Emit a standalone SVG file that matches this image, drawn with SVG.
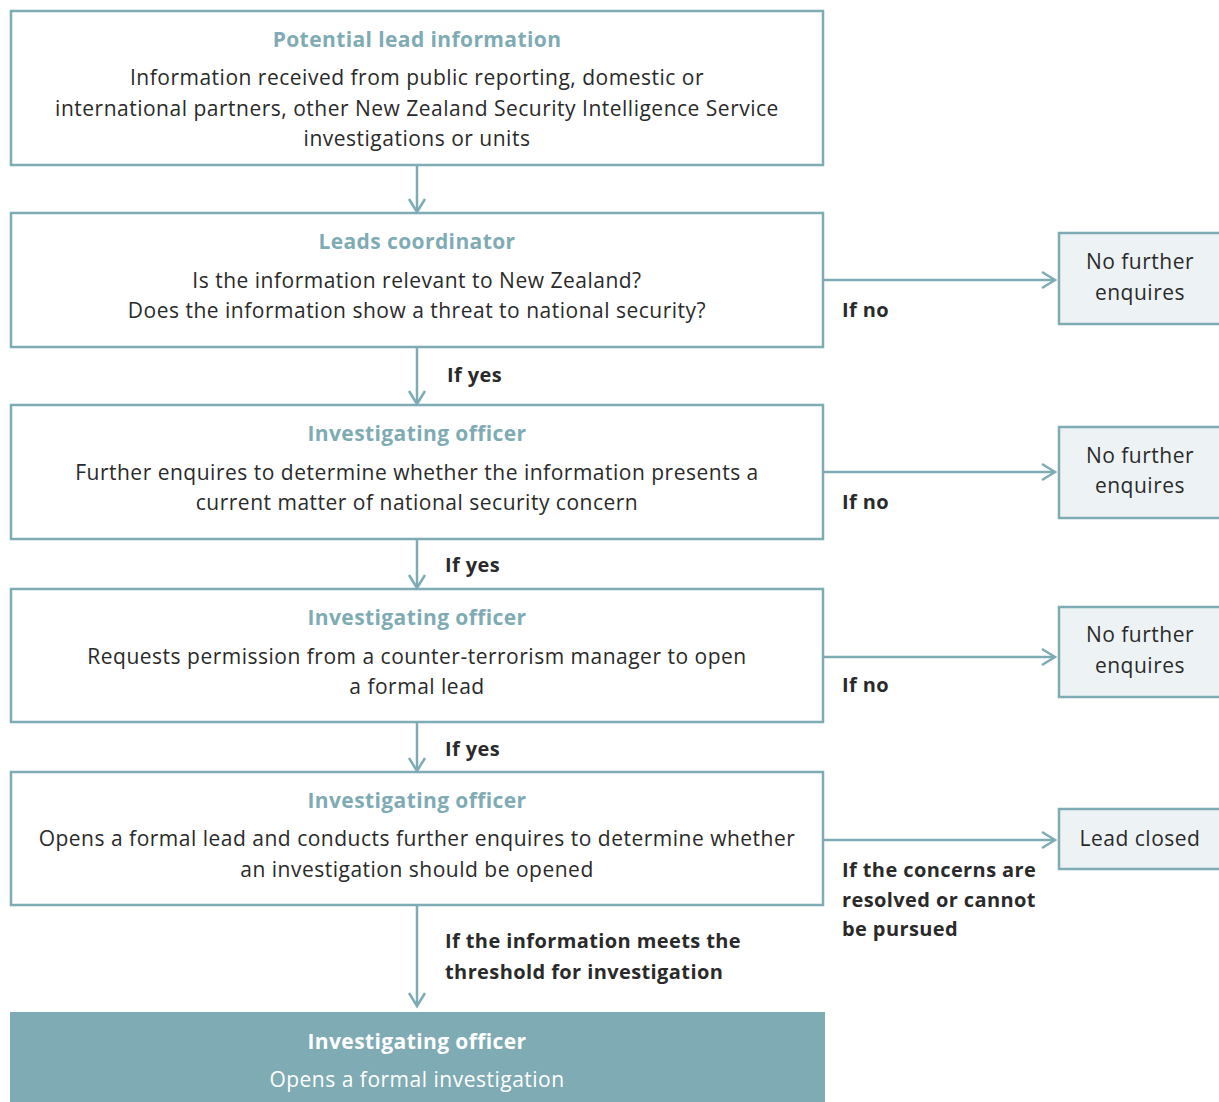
<svg xmlns="http://www.w3.org/2000/svg" width="1219" height="1102" viewBox="0 0 1219 1102">
<defs>
<marker id="arr" viewBox="0 0 20 20" refX="17" refY="10" markerWidth="20" markerHeight="20" markerUnits="userSpaceOnUse" orient="auto">
<path d="M4 2 L17 10 L4 18" fill="none" stroke="#7fabb5" stroke-width="2.5"/>
</marker>
</defs>
<style>
.box{fill:#ffffff;stroke:#7fabb5;stroke-width:2.5}
.side{fill:#edf3f5;stroke:#7fabb5;stroke-width:2.5}
.title{font-family:"Open Sans","Noto Sans",sans-serif;font-size:21px;font-weight:700;fill:#7fabb5;text-anchor:middle;letter-spacing:0.4px}
.body{font-family:"Open Sans","Noto Sans",sans-serif;font-size:21px;fill:#2a2a2a;text-anchor:middle;letter-spacing:0.5px}
.lbl{font-family:"Open Sans","Noto Sans",sans-serif;font-size:20px;font-weight:700;fill:#2a2a2a;letter-spacing:0.4px}
.conn{fill:none;stroke:#7fabb5;stroke-width:2.5;marker-end:url(#arr)}
</style>
<rect width="1219" height="1102" fill="#ffffff"/>
<g id="n1">
<rect class="box" x="11" y="11" width="812" height="154"/>
<text class="title" x="417" y="47">Potential lead information</text>
<text class="body" x="417" y="85">Information received from public reporting, domestic or</text>
<text class="body" x="417" y="116">international partners, other New Zealand Security Intelligence Service</text>
<text class="body" x="417" y="146">investigations or units</text>
</g>
<g id="n2">
<rect class="box" x="11" y="213" width="812" height="134"/>
<text class="title" x="417" y="249">Leads coordinator</text>
<text class="body" x="417" y="288">Is the information relevant to New Zealand?</text>
<text class="body" x="417" y="318">Does the information show a threat to national security?</text>
</g>
<g id="n3">
<rect class="box" x="11" y="405" width="812" height="134"/>
<text class="title" x="417" y="441">Investigating officer</text>
<text class="body" x="417" y="480">Further enquires to determine whether the information presents a</text>
<text class="body" x="417" y="510">current matter of national security concern</text>
</g>
<g id="n4">
<rect class="box" x="11" y="589" width="812" height="133"/>
<text class="title" x="417" y="625">Investigating officer</text>
<text class="body" x="417" y="664">Requests permission from a counter-terrorism manager to open</text>
<text class="body" x="417" y="694">a formal lead</text>
</g>
<g id="n5">
<rect class="box" x="11" y="772" width="812" height="133"/>
<text class="title" x="417" y="808">Investigating officer</text>
<text class="body" x="417" y="846">Opens a formal lead and conducts further enquires to determine whether</text>
<text class="body" x="417" y="877">an investigation should be opened</text>
</g>
<g id="n6">
<rect x="10" y="1012" width="815" height="90" fill="#7fabb4"/>
<text class="title" x="417" y="1049" style="fill:#ffffff">Investigating officer</text>
<text class="body" x="417" y="1087" style="fill:#ffffff">Opens a formal investigation</text>
</g>
<g id="s1">
<rect class="side" x="1059" y="233" width="164" height="91"/>
<text class="body" x="1140" y="269">No further</text>
<text class="body" x="1140" y="300">enquires</text>
</g>
<g id="s2">
<rect class="side" x="1059" y="427" width="164" height="91"/>
<text class="body" x="1140" y="463">No further</text>
<text class="body" x="1140" y="493">enquires</text>
</g>
<g id="s3">
<rect class="side" x="1059" y="607" width="164" height="90"/>
<text class="body" x="1140" y="642">No further</text>
<text class="body" x="1140" y="673">enquires</text>
</g>
<g id="s4">
<rect class="side" x="1059" y="809" width="164" height="60"/>
<text class="body" x="1140" y="846">Lead closed</text>
</g>
<g id="connectors">
<line class="conn" x1="417" y1="166" x2="417" y2="212"/>
<line class="conn" x1="417" y1="348" x2="417" y2="404"/>
<line class="conn" x1="417" y1="540" x2="417" y2="588"/>
<line class="conn" x1="417" y1="723" x2="417" y2="771"/>
<line class="conn" x1="417" y1="906" x2="417" y2="1006"/>
<line class="conn" x1="824" y1="280" x2="1055" y2="280"/>
<line class="conn" x1="824" y1="472" x2="1055" y2="472"/>
<line class="conn" x1="824" y1="657" x2="1055" y2="657"/>
<line class="conn" x1="824" y1="840" x2="1055" y2="840"/>
<text class="lbl" x="447" y="382">If yes</text>
<text class="lbl" x="445" y="572">If yes</text>
<text class="lbl" x="445" y="756">If yes</text>
<text class="lbl" x="445" y="948">If the information meets the</text>
<text class="lbl" x="445" y="979">threshold for investigation</text>
<text class="lbl" x="842" y="317">If no</text>
<text class="lbl" x="842" y="509">If no</text>
<text class="lbl" x="842" y="692">If no</text>
<text class="lbl" x="842" y="877">If the concerns are</text>
<text class="lbl" x="842" y="907">resolved or cannot</text>
<text class="lbl" x="842" y="936">be pursued</text>
</g>
</svg>
